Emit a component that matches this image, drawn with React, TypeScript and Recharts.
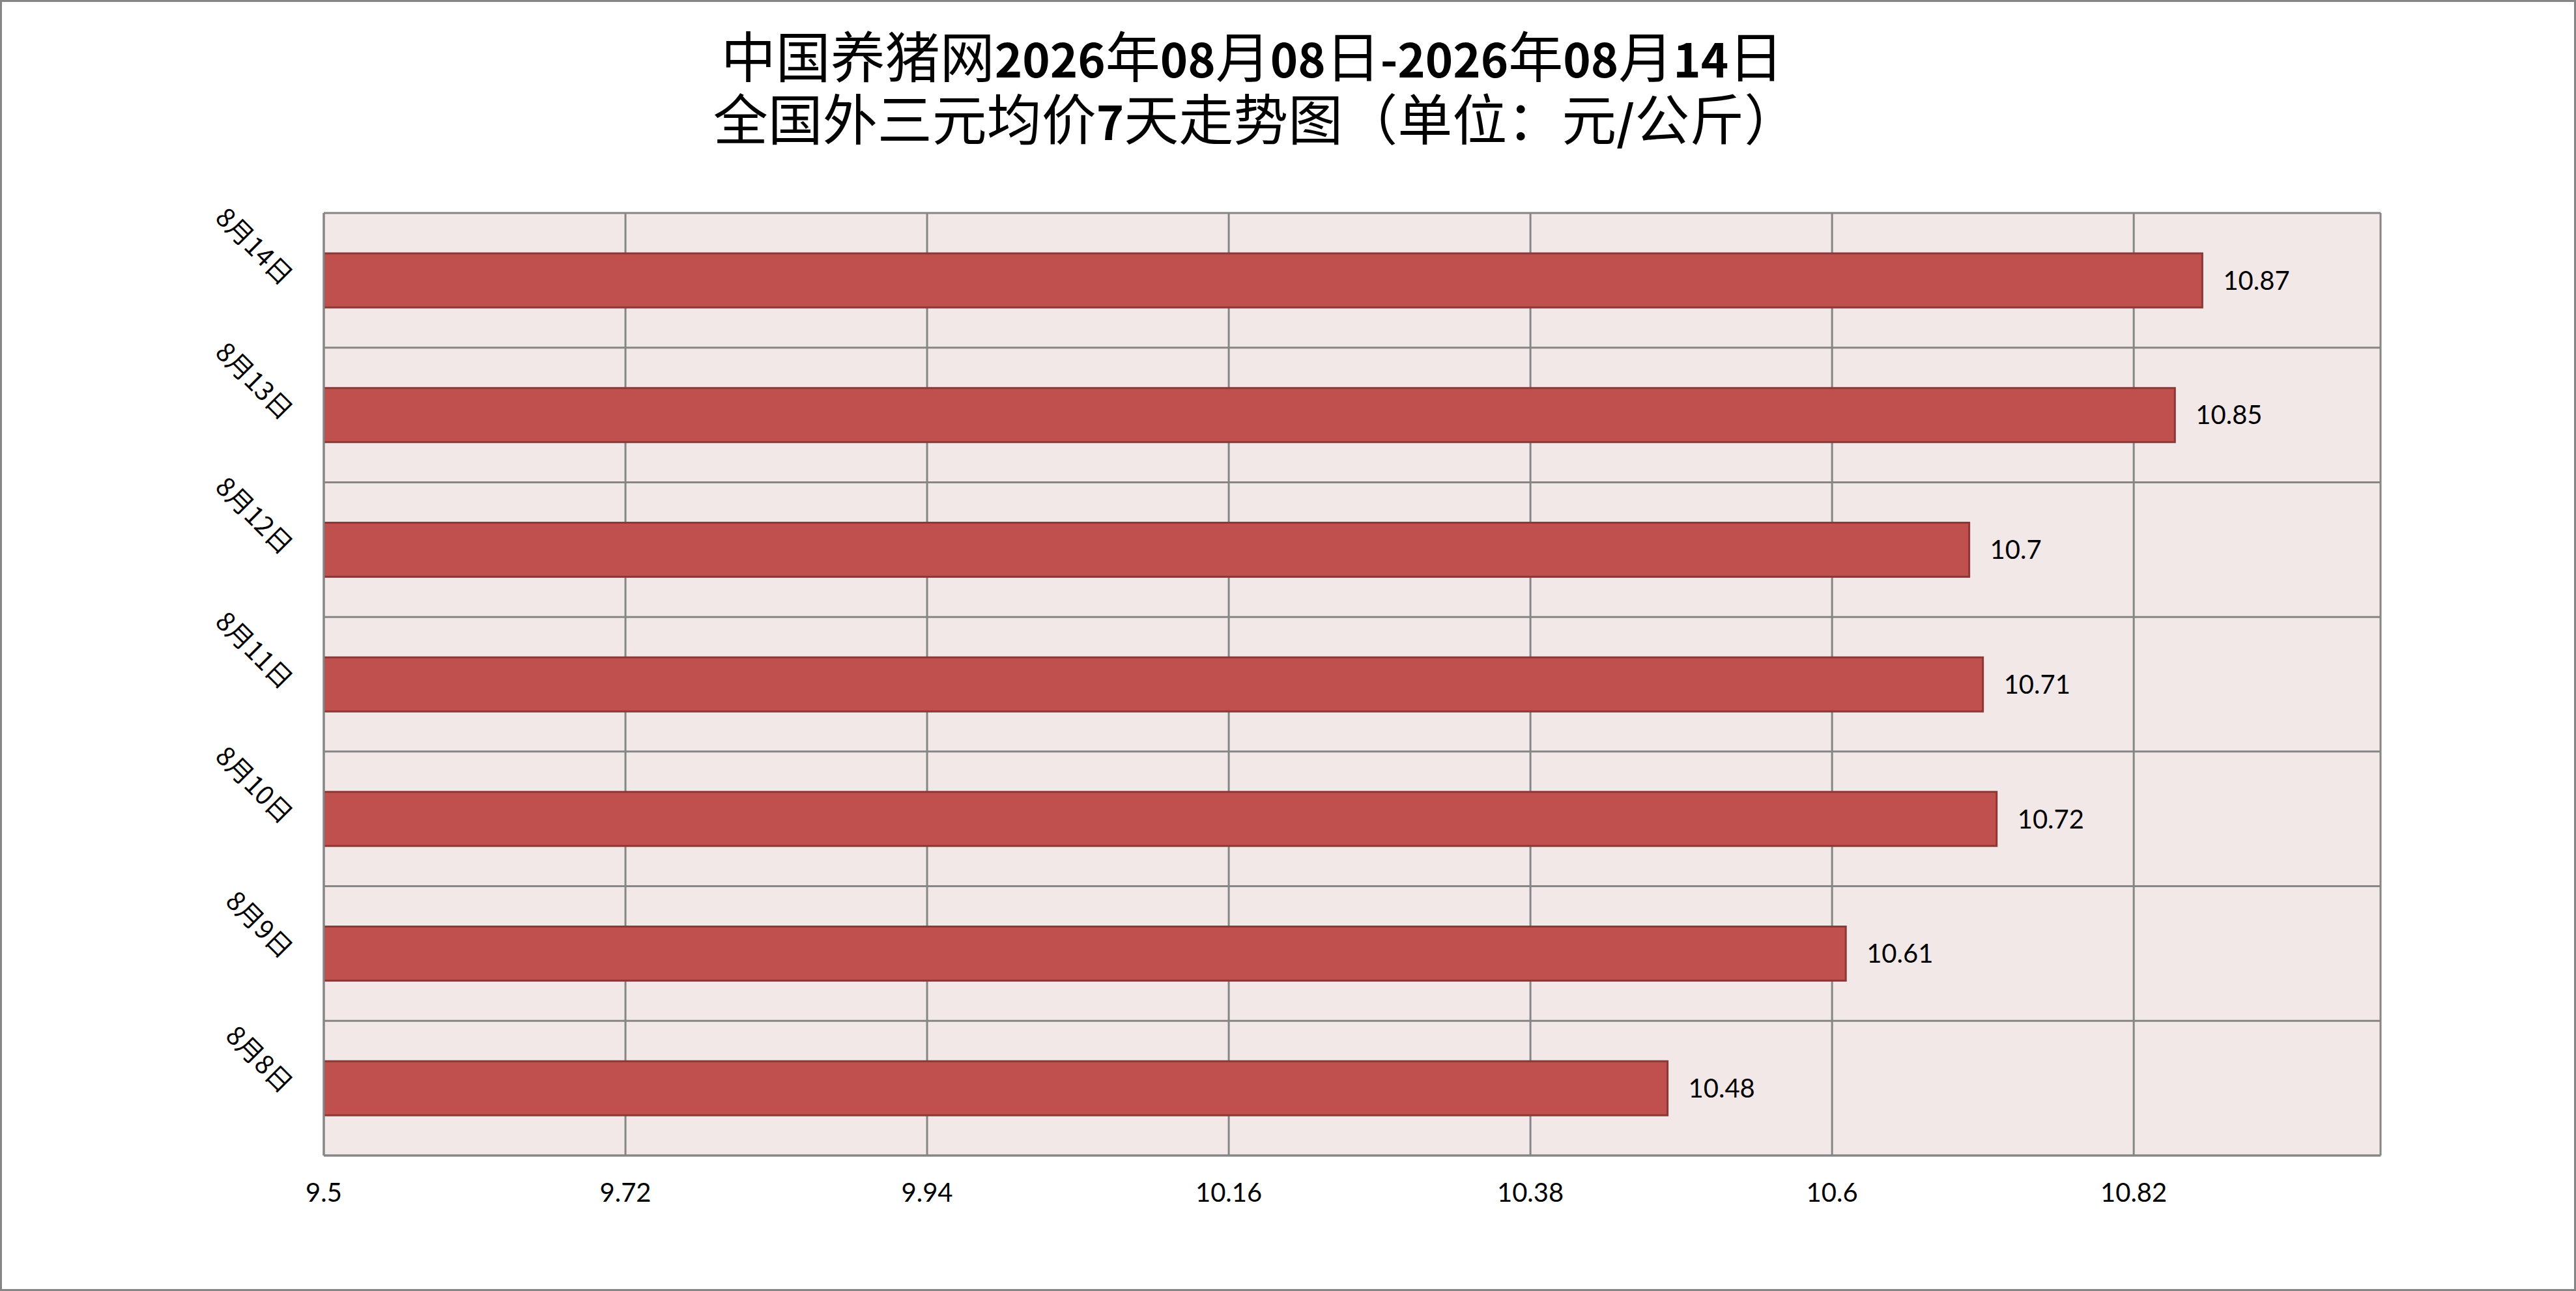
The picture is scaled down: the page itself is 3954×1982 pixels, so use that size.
import { Bar, BarChart, CartesianGrid, LabelList, XAxis, YAxis } from 'recharts';

const W = 3954;
const H = 1982;

// chronological order, bottom to top in the chart
const dates = ['8月8日', '8月9日', '8月10日', '8月11日', '8月12日', '8月13日', '8月14日'];
const prices = [10.48, 10.61, 10.72, 10.71, 10.7, 10.85, 10.87];
const priceTicks = [9.5, 9.72, 9.94, 10.16, 10.38, 10.6, 10.82];
const priceDomain = [9.5, 11];

// title pieces: b = bold latin part
const titleLine1 = [
  { t: '中国养猪网', b: false },
  { t: '2026', b: true },
  { t: '年', b: false },
  { t: '08', b: true },
  { t: '月', b: false },
  { t: '08', b: true },
  { t: '日', b: false },
  { t: '-2026', b: true },
  { t: '年', b: false },
  { t: '08', b: true },
  { t: '月', b: false },
  { t: '14', b: true },
  { t: '日', b: false },
];
const titleLine2 = [
  { t: '全国外三元均价', b: false },
  { t: '7', b: true },
  { t: '天走势图（单位：元', b: false },
  { t: '/', b: true },
  { t: '公斤）', b: false },
];

const data = dates.map((d, i) => ({ date: d, price: prices[i] }));

const gridColor = '#868686';
const cjk = '"Noto Sans CJK SC", sans-serif';
const latin = 'Lato, "Noto Sans", sans-serif';

function DateTick(props: any) {
  const { x, y, payload } = props;
  return (
    <g transform={`translate(${x},${y})`}>
      <text
        transform="rotate(45)"
        textAnchor="end"
        dy="0.35em"
        fontFamily={cjk}
        fontSize={40}
        fill="#000"
      >
        {payload.value}
      </text>
    </g>
  );
}

function TitleLine({ parts, x, y }: { parts: { t: string; b: boolean }[]; x: number; y: number }) {
  return (
    <text x={x} y={y} textAnchor="middle" fontFamily={cjk} fill="#000">
      {parts.map((p, i) => (
        <tspan key={i} fontWeight={p.b ? 700 : 400} fontSize={p.b ? 72 : 84}>
          {p.t}
        </tspan>
      ))}
    </text>
  );
}

export default function App() {
  return (
    <div
      style={{
        position: 'absolute',
        left: 0,
        top: 0,
        width: W,
        height: H,
        background: '#fff',
        boxShadow: 'inset 0 0 0 3px #868686',
      }}
    >
      <svg width={W} height={260} style={{ position: 'absolute', left: 0, top: 0 }}>
        <TitleLine parts={titleLine1} x={1922} y={119} />
        <TitleLine parts={titleLine2} x={1928} y={215} />
      </svg>

      <div style={{ position: 'absolute', left: 0, top: 0 }}>
        <BarChart
          width={W}
          height={H}
          data={data}
          layout="vertical"
          margin={{ top: 327, right: 300, left: 397, bottom: 108 }}
          barCategoryGap="30%"
        >
          <CartesianGrid
            fill="#F2E8E8"
            stroke={gridColor}
            strokeWidth={3}
            horizontalCoordinatesGenerator={({ offset }: any) =>
              Array.from({ length: dates.length + 1 }, (_, i) => offset.top + (i * offset.height) / dates.length)
            }
          />
          <XAxis
            type="number"
            domain={priceDomain}
            ticks={priceTicks}
            allowDataOverflow
            height={100}
            axisLine={{ stroke: gridColor, strokeWidth: 3 }}
            tickLine={false}
            tickSize={0}
            tickMargin={43}
            tick={{ fontFamily: latin, fontSize: 40, fill: '#000' }}
          />
          <YAxis
            type="category"
            dataKey="date"
            reversed
            width={100}
            axisLine={{ stroke: gridColor, strokeWidth: 3 }}
            tickLine={false}
            tickSize={0}
            tickMargin={55}
            interval={0}
            tick={<DateTick />}
          />
          <Bar
            dataKey="price"
            fill="#C0504D"
            stroke="#8C3836"
            strokeWidth={3}
            isAnimationActive={false}
          >
            <LabelList
              dataKey="price"
              position="right"
              offset={32}
              fontFamily={latin}
              fontSize={40}
              fill="#000"
            />
          </Bar>
        </BarChart>
      </div>
    </div>
  );
}
